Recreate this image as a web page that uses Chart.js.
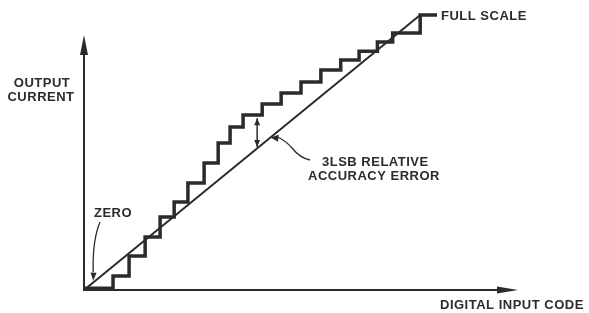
<!DOCTYPE html>
<html>
<head>
<meta charset="utf-8">
<script src="https://cdn.jsdelivr.net/npm/chart.js@4"></script>
<style>
  html, body { margin: 0; padding: 0; background: #fff; }
  #wrap { width: 589px; height: 313px; position: relative; }
</style>
</head>
<body>
<div id="wrap"><canvas id="dacChart"></canvas></div>
<script>
// transfer curve of a DAC, in code units (x) and LSB units (y)
const stepCodes = [0, 1.9, 2.95, 4.0, 4.98, 5.9, 6.8, 7.86, 8.78, 9.56, 10.41, 11.66, 12.9, 14.2, 15.5, 16.8, 18.0, 19.2, 20.2, 22.0, 23.1];
const stepLevels = [0.15, 1.12, 2.72, 4.24, 5.84, 7.04, 8.56, 10.16, 11.76, 13.04, 14.0, 14.88, 15.76, 16.64, 17.6, 18.4, 19.1, 19.84, 20.56, 22.0, 22.0];
const idealCodes = [0, 22];
const idealLevels = [0, 22];
const errorCode = 11.33;
const errorLevels = [11.45, 13.75];

const axisMax = { x: 28.4, y: 20.4 };
const ink = '#2b2b2b';

const stairData = stepCodes.map((c, i) => ({ x: c, y: stepLevels[i] }));
const idealData = idealCodes.map((c, i) => ({ x: c, y: idealLevels[i] }));
const errorData = errorLevels.map(l => ({ x: errorCode, y: l }));

function head(ctx, x, y, ang, len, half) {
    ctx.beginPath();
    ctx.moveTo(x, y);
    ctx.lineTo(x - len * Math.cos(ang) + half * Math.sin(ang), y - len * Math.sin(ang) - half * Math.cos(ang));
    ctx.lineTo(x - len * Math.cos(ang) - half * Math.sin(ang), y - len * Math.sin(ang) + half * Math.cos(ang));
    ctx.closePath();
    ctx.fill();
}

const annotate = {
    id: 'annotate',
    beforeDatasetsDraw(chart) {
        const ctx = chart.ctx;
        const xs = chart.scales.x, ys = chart.scales.y;
        const x0 = xs.getPixelForValue(0), y0 = ys.getPixelForValue(0);
        const xEnd = xs.getPixelForValue(axisMax.x), yEnd = ys.getPixelForValue(axisMax.y);
        ctx.save();
        ctx.strokeStyle = ink;
        ctx.fillStyle = ink;
        // axes
        ctx.lineWidth = 2;
        ctx.beginPath();
        ctx.moveTo(x0, yEnd + 10);
        ctx.lineTo(x0, y0);
        ctx.lineTo(xEnd - 10, y0);
        ctx.stroke();
        head(ctx, x0, yEnd, -Math.PI / 2, 20, 4);
        head(ctx, xEnd, y0, 0, 21, 3.5);
        ctx.restore();
    },
    afterDatasetsDraw(chart) {
        const ctx = chart.ctx;
        const xs = chart.scales.x, ys = chart.scales.y;
        const px = v => xs.getPixelForValue(v), py = v => ys.getPixelForValue(v);
        ctx.save();
        ctx.strokeStyle = ink;
        ctx.fillStyle = ink;
        // error arrow heads
        const ex = px(errorCode);
        head(ctx, ex, py(errorLevels[1]), -Math.PI / 2, 7, 3);
        head(ctx, ex, py(errorLevels[0]), Math.PI / 2, 7, 3);

        // ZERO leader
        ctx.lineWidth = 1.3;
        ctx.beginPath();
        ctx.moveTo(px(1.05), 222);
        ctx.quadraticCurveTo(px(0.55), 240, px(0.6), 272);
        ctx.stroke();
        head(ctx, px(0.6), py(0.75), Math.PI / 2 + 0.05, 8, 3);

        // 3LSB leader
        const tx = px(12.2), ty = py(12.2);
        ctx.beginPath();
        ctx.moveTo(310, 160);
        ctx.quadraticCurveTo(300, 158, 292, 148);
        ctx.quadraticCurveTo(285, 140, tx + 6, ty - 1);
        ctx.stroke();
        head(ctx, tx, ty, Math.PI + 0.1, 8, 3.5);

        // labels
        ctx.font = 'bold 13px "Liberation Sans", Arial, sans-serif';
        ctx.letterSpacing = '0.5px';
        ctx.textBaseline = 'middle';
        ctx.textAlign = 'left';
        ctx.fillText('FULL SCALE', px(23.1) + 4, py(22) + 1);
        ctx.fillText('ZERO', 94, 213);
        ctx.fillText('3LSB RELATIVE', 322, 162);
        ctx.fillText('ACCURACY ERROR', 308, 176);
        ctx.fillText('DIGITAL INPUT CODE', 440, 305);
        ctx.textAlign = 'center';
        ctx.fillText('OUTPUT', 42, 83);
        ctx.fillText('CURRENT', 41, 97);
        ctx.restore();
    }
};

const dacChart = new Chart(document.getElementById('dacChart').getContext('2d'), {
    type: 'scatter',
    data: {
        datasets: [{
            data: stairData,
            showLine: true,
            stepped: 'before',
            borderColor: ink,
            borderWidth: 3.5,
            borderJoinStyle: 'miter',
            pointRadius: 0
        }, {
            data: idealData,
            showLine: true,
            borderColor: ink,
            borderWidth: 2,
            pointRadius: 0
        }, {
            data: errorData,
            showLine: true,
            borderColor: ink,
            borderWidth: 1.5,
            pointRadius: 0
        }]
    },
    options: {
        responsive: true,
        maintainAspectRatio: false,
        animation: false,
        layout: { padding: { left: 84, right: 71, top: 0, bottom: 23 } },
        plugins: { legend: { display: false }, tooltip: { enabled: false } },
        scales: {
            x: { type: 'linear', min: 0, max: 28.4, display: false },
            y: { type: 'linear', min: 0, max: 23.2, display: false }
        }
    },
    plugins: [annotate]
});
</script>
</body>
</html>
